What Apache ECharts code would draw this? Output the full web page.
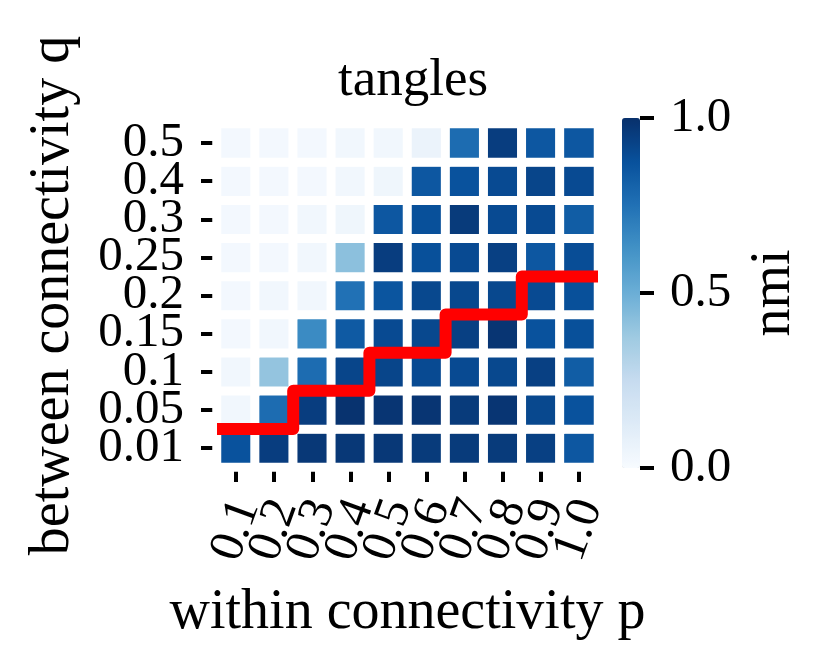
<!DOCTYPE html>
<html><head><meta charset="utf-8">
<script src="https://cdn.jsdelivr.net/npm/echarts@6/dist/echarts.min.js"></script>
<style>html,body{margin:0;padding:0;background:#fff}#c{width:832px;height:670px}</style>
</head><body><div id="c"></div>
<script>
const pLabels = ['0.1','0.2','0.3','0.4','0.5','0.6','0.7','0.8','0.9','1.0'];
const qLabels = ['0.01','0.05','0.1','0.15','0.2','0.25','0.3','0.4','0.5']; // bottom to top
// nmi values, rows listed bottom (q=0.01) to top (q=0.5), columns p=0.1..1.0
const row001 = [0.87,0.95,0.97,0.97,0.97,0.96,0.96,0.96,0.94,0.85];
const row005 = [0.03,0.77,0.95,0.99,0.98,0.98,0.96,0.98,0.91,0.87];
const row010 = [0.03,0.40,0.77,0.92,0.92,0.90,0.90,0.91,0.94,0.83];
const row015 = [0.02,0.03,0.65,0.84,0.90,0.91,0.94,0.98,0.87,0.88];
const row020 = [0.02,0.03,0.03,0.75,0.86,0.91,0.91,0.91,0.90,0.88];
const row025 = [0.02,0.02,0.03,0.42,0.95,0.88,0.90,0.94,0.85,0.89];
const row030 = [0.02,0.02,0.03,0.04,0.85,0.88,0.96,0.90,0.90,0.83];
const row040 = [0.02,0.02,0.02,0.03,0.04,0.85,0.87,0.90,0.92,0.90];
const row050 = [0.02,0.02,0.02,0.03,0.03,0.06,0.77,0.95,0.85,0.85];
const rows = [row001,row005,row010,row015,row020,row025,row030,row040,row050];
// red boundary step line in cell-index units
const stepX = [0,2,2,4,4,6,6,8,8,10];
const stepY = [1,1,2,2,3,3,4,4,5,5];

const data = [];
rows.forEach((r,yi)=>r.forEach((v,xi)=>data.push([xi,yi,v])));
const lineData = stepX.map((x,i)=>[x,stepY[i]]);
const FONT = 'Liberation Serif';
const chart = echarts.init(document.getElementById('c'));
chart.setOption({
  animation:false,
  backgroundColor:'#fff',
  title:{text:'tangles',left:408,top:50,textAlign:'center',textStyle:{fontFamily:FONT,fontSize:53,fontWeight:'normal',color:'#000'}},
  grid:[{left:217,top:124,width:381,height:343},{left:622,top:118,width:18,height:350}],
  xAxis:[
    {type:'category',gridIndex:0,data:pLabels,offset:0,axisLine:{show:false},
     axisTick:{show:true,alignWithLabel:true,length:15,lineStyle:{color:'#000',width:4}},
     axisLabel:{rotate:70,margin:63,align:'center',verticalAlign:'middle',fontFamily:FONT,fontSize:49,color:'#000',interval:0},
     name:'within connectivity p',nameLocation:'middle',nameGap:118,
     nameTextStyle:{fontFamily:FONT,fontSize:56,color:'#000'},splitLine:{show:false}},
    {type:'value',gridIndex:0,min:0,max:10,show:false},
    {type:'value',gridIndex:1,min:0,max:1,show:false}
  ],
  yAxis:[
    {type:'category',gridIndex:0,data:qLabels,offset:0,axisLine:{show:false},
     axisTick:{show:true,alignWithLabel:true,length:16,lineStyle:{color:'#000',width:4}},
     axisLabel:{margin:33,fontFamily:FONT,fontSize:49,color:'#000',interval:0},
     name:'between connectivity q',nameLocation:'middle',nameGap:136,
     nameTextStyle:{fontFamily:FONT,fontSize:56,color:'#000'},splitLine:{show:false}},
    {type:'value',gridIndex:0,min:0,max:9,show:false},
    {type:'value',gridIndex:1,min:0,max:1,interval:0.5,position:'right',
     axisLine:{show:false,onZero:false},axisTick:{show:true,inside:false,length:14,lineStyle:{color:'#000',width:4}},
     axisLabel:{margin:30,fontFamily:FONT,fontSize:49,color:'#000',formatter:v=>v.toFixed(1)},
     splitLine:{show:false},
     name:'nmi',nameLocation:'middle',nameGap:106,nameRotate:90,
     nameTextStyle:{fontFamily:FONT,fontSize:56,color:'#000'}}
  ],
  visualMap:{type:'continuous',min:0,max:1,seriesIndex:0,calculable:false,show:true,
    orient:'vertical',left:622,top:118,itemWidth:18,itemHeight:350,padding:0,text:null,showLabel:false,
    inRange:{color:['#f7fbff','#deebf7','#c6dbef','#9ecae1','#6baed6','#4292c6','#2171b5','#08519c','#08306b']}},
  series:[
    {type:'heatmap',xAxisIndex:0,yAxisIndex:0,data:data,
     itemStyle:{borderColor:'#fff',borderWidth:9},emphasis:{disabled:true}},
    {type:'line',xAxisIndex:1,yAxisIndex:1,data:lineData,symbol:'none',
     lineStyle:{color:'#ff0000',width:12,join:'round',cap:'butt'},z:5}
  ]
});
</script></body></html>
